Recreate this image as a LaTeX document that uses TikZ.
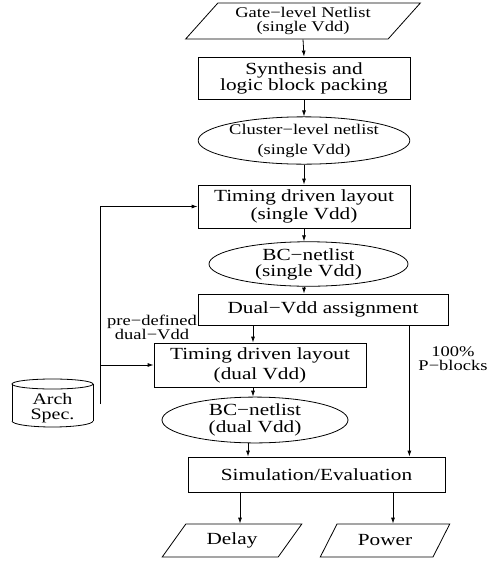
\documentclass[tikz,border=0pt]{standalone}
\usepackage{fontspec}
\setmainfont{Liberation Serif}[FakeStretch=1.25]
\usetikzlibrary{arrows.meta, shapes.geometric}

\newcommand{\bigtxt}{\fontsize{17}{16}\selectfont}
\newcommand{\smalltxt}{\fontsize{14.8}{14}\selectfont}

\tikzset{
	box/.style={draw, rectangle, inner sep=0pt, align=center, font=\bigtxt},
	oval/.style={draw, ellipse, inner sep=0pt, align=center, font=\bigtxt},
	io/.style={draw, trapezium, trapezium left angle=47, trapezium right angle=133,
		trapezium stretches=true, inner sep=0pt, align=center, font=\bigtxt},
	arr/.style={-{Latex[length=6pt, width=4pt]}},
}

\begin{document}
\begin{tikzpicture}[x=1pt, y=-1pt, line width=0.8pt]
			\useasboundingbox (0,0) rectangle (490,563);
			
			% Main flow, top to bottom
			\node[io, minimum width=235, minimum height=36, font=\fontsize{14.8}{14}\selectfont] (gate) at (303,21) {Gate−level Netlist\\(single Vdd)};
			\node[box, minimum width=212, minimum height=42] (synth) at (304,78) {Synthesis and\\logic block packing};
			\node[oval, minimum width=197, minimum height=47, font=\fontsize{14.8}{20}\selectfont] (cluster) at (304,140.5) {Cluster−level netlist\\(single Vdd)};
			\node[box, minimum width=212, minimum height=43, font=\fontsize{17}{18}\selectfont] (tsingle) at (304,206.5) {Timing driven layout\\(single Vdd)};
			\node[oval, minimum width=199, minimum height=38] (bcsingle) at (308.5,264) {BC−netlist\\(single Vdd)};
			\node[box, minimum width=250, minimum height=31] (dual) at (323,309.5) {Dual−Vdd assignment};
			\node[box, minimum width=212, minimum height=44, font=\fontsize{17}{20}\selectfont] (tdual) at (260,365) {Timing driven layout\\(dual Vdd)};
			\node[oval, minimum width=186, minimum height=36, font=\fontsize{17}{17}\selectfont] (bcdual) at (255,420) {BC−netlist\\(dual Vdd)};
			\node[box, minimum width=257, minimum height=35] (sim) at (316.5,474.5) {Simulation/Evaluation};
			\node[io, trapezium left angle=50, trapezium right angle=130, minimum width=140, minimum height=33] (delay) at (232,540.5) {Delay};
			\node[io, trapezium left angle=50, trapezium right angle=130, minimum width=130, minimum height=33] (power) at (385,540.5) {Power};
			
			% Architecture file
			\draw (52.5,384) ellipse [x radius=40.5, y radius=5];
			\draw (12,384) -- (12,421);
			\draw (93,384) -- (93,421);
			\draw (12,421) arc[start angle=180, end angle=0, x radius=40.5, y radius=6];
			\node[font=\fontsize{16}{15}\selectfont, align=center] (arch) at (52.5,408.5) {Arch\\Spec.};
			\coordinate (feed) at (100,404);
			
			% Labels
			\node[font=\smalltxt, align=center] (predef) at (152,327) {pre−defined\\dual−Vdd};
			\node[font=\smalltxt, align=center] (pblocks) at (453,359) {100\%\\P−blocks};
			
			% Connectors
			\draw[arr] (gate.south) -- (synth.north);
			\draw[arr] (synth) -- (cluster);
			\draw[arr] (cluster) -- (tsingle);
			\draw[arr] (tsingle.south) -- (tsingle.south |- bcsingle.north);
			\draw[arr] (tsingle.south |- bcsingle.south) -- (tsingle.south |- dual.north);
			\draw[arr] ([xshift=-7pt]tdual.north |- dual.south) -- ([xshift=-7pt]tdual.north);
			\draw[arr] ([xshift=-7pt]tdual.south) -- ([xshift=-7pt]tdual.south |- bcdual.north);
			\draw[arr] ([xshift=-7pt]bcdual.south) -- ([xshift=-7pt]bcdual.south |- sim.north);
			\draw[arr] ([xshift=-39pt]dual.south east) -- ([xshift=-36pt]sim.north east);
			\draw[arr] ([xshift=8pt]delay.north |- sim.south) -- ([xshift=8pt]delay.north);
			\draw[arr] ([xshift=8pt]power.north |- sim.south) -- ([xshift=8pt]power.north);
			\draw[arr] (feed) |- (tsingle.west);
			\draw[arr] (feed |- tdual.west) -- (tdual.west);
		\end{tikzpicture}
\end{document}
